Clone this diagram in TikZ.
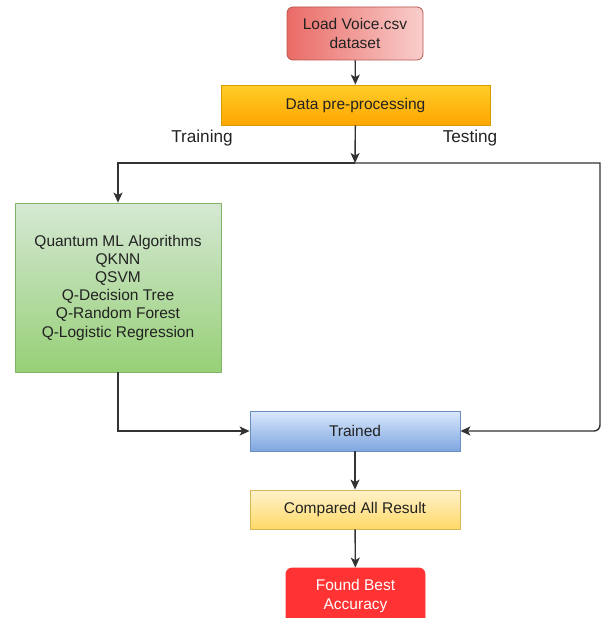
\documentclass[tikz,border=0pt]{standalone}
\usepackage{fontspec}
\setmainfont{Liberation Sans}
\usepackage{tikz}
\usetikzlibrary{arrows.meta}
\usetikzlibrary{positioning}
\definecolor{linegray}{HTML}{333333}
\definecolor{txtgray}{HTML}{222222}
\definecolor{redA}{HTML}{EA6B66}
\definecolor{redB}{HTML}{F8CECC}
\definecolor{redS}{HTML}{B85450}
\definecolor{orgA}{HTML}{FFCD28}
\definecolor{orgB}{HTML}{FFA500}
\definecolor{orgS}{HTML}{D79B00}
\definecolor{grnA}{HTML}{D5E8D4}
\definecolor{grnB}{HTML}{97D077}
\definecolor{grnS}{HTML}{82B366}
\definecolor{bluA}{HTML}{DAE8FC}
\definecolor{bluB}{HTML}{7EA6E0}
\definecolor{bluS}{HTML}{6C8EBF}
\definecolor{ylwA}{HTML}{FFF2CC}
\definecolor{ylwB}{HTML}{FFD966}
\definecolor{ylwS}{HTML}{D6B656}
\definecolor{fndR}{HTML}{FF3333}
\tikzset{>={Stealth[length=10pt, width=9pt, inset=2.5pt]}}
\tikzset{box/.style = {draw, line width=0.8pt, inner sep=2pt, align=center, text=txtgray,
  font=\fontsize{15.5}{18.2}\selectfont}}
\tikzset{flow/.style = {->, draw=linegray, line width=1.4pt}}
\tikzset{lbl/.style = {draw=none, text=txtgray, font=\fontsize{17.2}{20}\selectfont}}

\begin{document}
\begin{tikzpicture}[x=1pt, y=-1pt]
\useasboundingbox (0, 0) rectangle (601, 618);
\node [box, rounded corners=6pt, draw=redS, left color=redA, right color=redB,
  minimum width=136, minimum height=53] (load) at (355, 33.5) {Load Voice.csv\\dataset};
\node [box, draw=orgS, top color=orgA, bottom color=orgB,
  minimum width=269, minimum height=40] (prep) at (355.5, 105) {Data pre-processing};
\node [box, draw=grnS, top color=grnA, bottom color=grnB,
  minimum width=206, minimum height=169] (qml) at (118, 287.5)
  {Quantum ML Algorithms\\QKNN\\QSVM\\Q-Decision Tree\\Q-Random Forest\\Q-Logistic Regression};
\node [box, draw=bluS, top color=bluA, bottom color=bluB,
  minimum width=210, minimum height=40] (trained) at (355, 431) {Trained};
\node [box, draw=ylwS, top color=ylwA, bottom color=ylwB,
  minimum width=210, minimum height=39] (compared) at (355, 509.5) {Compared All Result};
\node [box, rounded corners=6pt, draw=fndR, fill=fndR, text=white,
  minimum width=139, minimum height=56] (found) at (355.5, 596) {Found Best\\Accuracy};
\node [lbl] (train) at (202, 138.5) {Training};
\node [lbl] (test) at (470, 138.5) {Testing};
\coordinate (split) at (355, 163);
\coordinate (edge) at (600, 163);
\draw [flow] (load) to (prep);
\draw [flow] (prep) to (split);
\draw [flow] (split) -| (qml.north);
\draw [flow] (split) -- (edge) [rounded corners=6pt] |- (trained.east);
\draw [flow] (qml.south) |- (trained.west);
\draw [flow] (trained) to (compared);
\draw [flow] (compared) to (found);
\end{tikzpicture}
\end{document}
